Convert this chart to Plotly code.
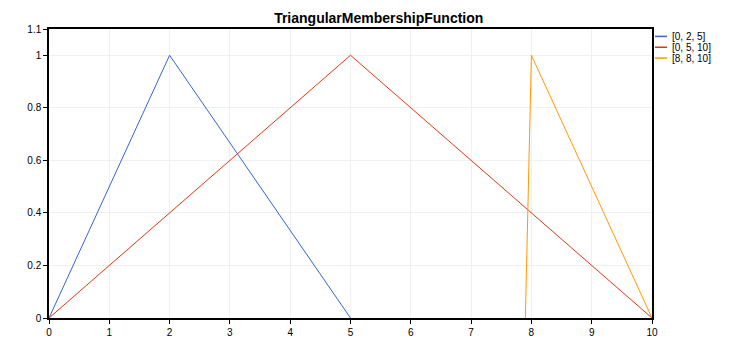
import plotly.graph_objects as go

# Triangular membership functions: vertices of each triangle
names = ["[0, 2, 5]", "[0, 5, 10]", "[8, 8, 10]"]
x_a = [0, 2, 5]
y_a = [0, 1, 0]
x_b = [0, 5, 10]
y_b = [0, 1, 0]
x_c = [7.9, 8, 10]
y_c = [0, 1, 0]
colors = ["#3366CC", "#DC3912", "#FF9900"]

x_ticks = list(range(0, 11))
y_ticks = [0, 0.2, 0.4, 0.6, 0.8, 1, 1.1]
y_labels = ["0", "0.2", "0.4", "0.6", "0.8", "1", "1.1"]

W, H = 750, 350
L, R, T, B = 49, 98, 29, 28
pw, ph = W - L - R, H - T - B

fig = go.Figure()
for name, xs, ys, c in zip(names, [x_a, x_b, x_c], [y_a, y_b, y_c], colors):
    fig.add_trace(go.Scatter(x=xs, y=ys, mode="lines", name=name, showlegend=False,
                             line=dict(color=c, width=1)))

# Compact legend drawn beside the plot area (pixel positions -> paper coords)
def px_x(p):
    return (p - L) / pw

def px_y(p):
    return 1 - (p - T) / ph

legend_rows = [36.5, 47.5, 58.5]
for name, c, ry in zip(names, colors, legend_rows):
    fig.add_shape(type="line", xref="paper", yref="paper",
                  x0=px_x(655), x1=px_x(667), y0=px_y(ry), y1=px_y(ry),
                  line=dict(color=c, width=1.5))
    fig.add_annotation(xref="paper", yref="paper", x=px_x(670), y=px_y(ry),
                       xanchor="left", yanchor="middle", showarrow=False,
                       text=name, font=dict(family="Liberation Sans, Arial", size=10, color="black"))

axis_common = dict(
    showline=True, linecolor="black", linewidth=1.5, mirror=True,
    ticks="outside", ticklen=4, tickcolor="black",
    showgrid=True, gridcolor="#f0f0f0", gridwidth=1,
    zeroline=False, tickfont=dict(family="Liberation Sans, Arial", size=10, color="black"),
)

fig.update_layout(
    width=W, height=H,
    margin=dict(l=L, r=R, t=T, b=B),
    paper_bgcolor="white", plot_bgcolor="white",
    title=dict(text="<b>TriangularMembershipFunction</b>", x=0.505, xanchor="center",
               xref="container", y=1 - 18 / H, yanchor="middle", yref="container",
               font=dict(family="Liberation Sans, Arial", size=14, color="black")),
    xaxis=dict(range=[0, 10], tickvals=x_ticks, **axis_common),
    yaxis=dict(range=[0, 1.1], tickvals=y_ticks, ticktext=y_labels, **axis_common),
    showlegend=False,
)

fig.write_html("out.html")
